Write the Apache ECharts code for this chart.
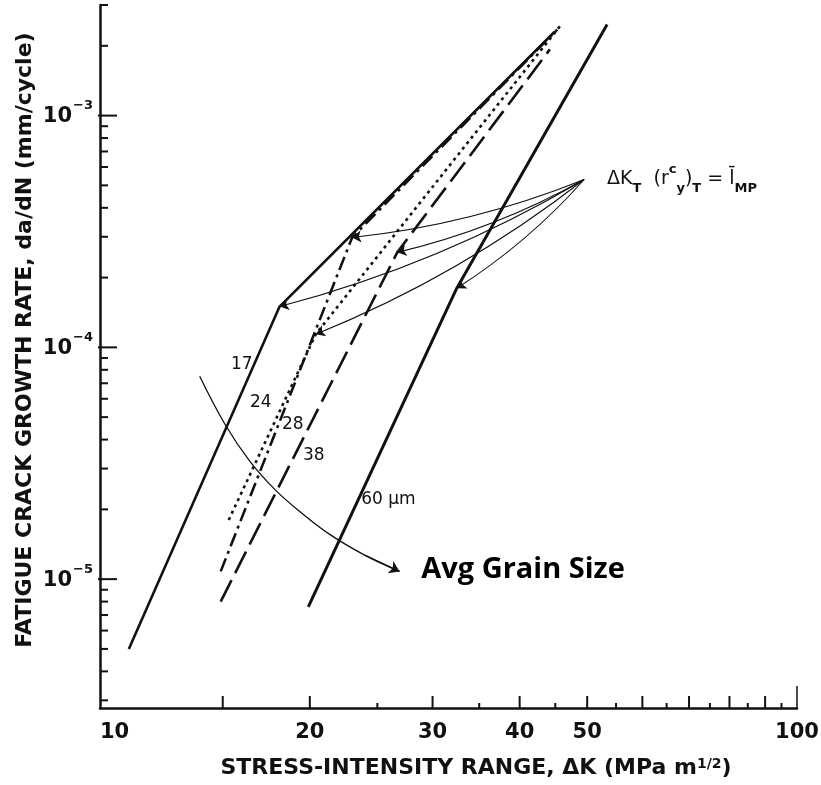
<!DOCTYPE html>
<html>
<head>
<meta charset="utf-8">
<script src="https://cdn.jsdelivr.net/npm/echarts@6/dist/echarts.min.js"></script>
<style>
  html, body { margin: 0; padding: 0; background: #fff; }
  #chart { width: 821px; height: 785px; }
</style>
</head>
<body>
<div id="chart"></div>
<script>
// Fatigue crack growth rate da/dN (mm/cycle) vs stress-intensity range ΔK (MPa m^1/2)
// for five average grain sizes; each curve is [ΔK, da/dN] pairs.
const grainSizes = ['17', '24', '28', '38', '60'];
const curve17 = [[11.0, 5.0e-6], [18.1, 1.50e-4], [44.9, 2.30e-3]];
const curve24 = [[15.3, 1.8e-5], [20.4, 1.14e-4], [45.9, 2.47e-3]];
const curve28 = [[14.9, 1.08e-5], [23.0, 2.98e-4], [45.3, 2.35e-3]];
const curve38 = [[14.9, 8.0e-6], [26.7, 2.57e-4], [44.2, 1.93e-3]];
const curve60 = [[19.9, 7.6e-6], [32.5, 1.80e-4], [53.4, 2.47e-3]];

// Transition points ΔK_T, where the cyclic plastic zone equals the grain size
const transitionOrigin = [49.5, 5.3e-4];
const transitionPoints = [[18.1, 1.50e-4], [20.4, 1.14e-4], [23.0, 2.98e-4], [26.7, 2.57e-4], [32.5, 1.80e-4]];

// Sweep arrow showing increasing average grain size
const grainArrow = [[13.9, 7.5e-5], [15.11, 4.66e-5], [16.4, 3.23e-5], [17.81, 2.44e-5],
                    [19.34, 1.96e-5], [21.36, 1.56e-5], [23.97, 1.27e-5], [26.9, 1.08e-5]];

// Curve label anchors
const curveLabels = [
  { text: '17', at: [15.97, 8.45e-5], align: 'center' },
  { text: '24', at: [17.01, 5.79e-5], align: 'center' },
  { text: '28', at: [18.9, 4.66e-5], align: 'center' },
  { text: '38', at: [20.26, 3.42e-5], align: 'center' },
  { text: '60 μm', at: [23.7, 2.21e-5], align: 'left' }
];
const transitionLabelAt = [53.4, 5.3e-4];
const grainLabelAt = [28.9, 1.10e-5];

// Axis ticks and labels
const xTickLabels = [10, 20, 30, 40, 50, 100];
const xMajorTicks = [15, 20, 30, 40, 50, 60, 70, 80, 90];
const xMinorTicks = [25, 35, 45, 55, 65, 75, 85, 95];
const yDecades = [1e-5, 1e-4, 1e-3];
const yMinorSteps = [2, 3, 4, 5, 6, 7, 8, 9];

const X_MIN = 10, X_MAX = 100, Y_MIN = 2.78e-6, Y_MAX = 3.0e-3;
const INK = '#111';
const LETTER = '"DejaVu Sans"';

const yMinorTicks = [];
[1e-6, 1e-5, 1e-4, 1e-3].forEach(d => yMinorSteps.forEach(s => {
  const v = d * s;
  if (v >= Y_MIN && v <= Y_MAX) yMinorTicks.push(v);
}));

function curveSeries(name, data, dash, width) {
  return {
    name, type: 'line', data, symbol: 'none', showSymbol: false, silent: true,
    animation: false, z: 3,
    lineStyle: { color: INK, width, type: dash, cap: 'butt' }
  };
}

function tickSeries(data, draw) {
  return {
    type: 'custom', clip: false, silent: true, animation: false, z: 4,
    data,
    renderItem(params, api) {
      const p = api.coord([api.value(0), api.value(1)]);
      return draw(p, api);
    }
  };
}

function textSeries(data, label) {
  return {
    type: 'scatter', symbolSize: 0, silent: true, animation: false, z: 5,
    itemStyle: { opacity: 1 },
    data,
    label: Object.assign({ show: true, position: 'inside', opacity: 1 }, label)
  };
}

const chart = echarts.init(document.getElementById('chart'), null, { renderer: 'canvas' });

const option = {
  backgroundColor: '#fff',
  animation: false,
  grid: { left: 100, right: 24, top: 5, bottom: 77 },
  xAxis: {
    type: 'log', logBase: 10, min: X_MIN, max: X_MAX,
    axisLine: { show: true, onZero: false, lineStyle: { color: INK, width: 2.5 } },
    axisTick: { show: false }, axisLabel: { show: false }, splitLine: { show: false }
  },
  yAxis: {
    type: 'log', logBase: 10, min: Y_MIN, max: Y_MAX,
    axisLine: { show: true, onZero: false, lineStyle: { color: INK, width: 2.5 } },
    axisTick: { show: false }, axisLabel: { show: false }, splitLine: { show: false }
  },
  graphic: [
    {
      type: 'text', x: 25, y: 340, rotation: Math.PI / 2, silent: true,
      style: {
        text: 'FATIGUE CRACK GROWTH RATE, da/dN (mm/cycle)',
        font: 'bold 22px ' + LETTER, fill: INK, align: 'center', verticalAlign: 'middle'
      }
    },
    {
      type: 'text', x: 476, y: 768, silent: true,
      style: {
        text: 'STRESS-INTENSITY RANGE, ΔK (MPa m{s|1/2})',
        font: 'bold 22px ' + LETTER, fill: INK, align: 'center', verticalAlign: 'middle',
        rich: { s: { font: 'bold 14px ' + LETTER, verticalAlign: 'top', fill: INK } }
      }
    }
  ],
  series: [
    curveSeries('17', curve17, 'solid', 2.6),
    curveSeries('24', curve24, [3, 4], 2.6),
    curveSeries('28', curve28, [14, 5, 3, 5], 2.6),
    curveSeries('38', curve38, [24, 8], 2.6),
    curveSeries('60', curve60, 'solid', 3),
    // fan of arrows from the ΔK_T annotation to each transition
    {
      type: 'lines', coordinateSystem: 'cartesian2d', silent: true, animation: false, z: 2,
      symbol: ['none', 'arrow'], symbolSize: [0, 9],
      lineStyle: { color: INK, width: 1.1, curveness: 0.07, opacity: 1 },
      data: transitionPoints.map(t => ({ coords: [transitionOrigin, t] }))
    },
    // grain-size sweep arrow
    {
      type: 'line', data: grainArrow, smooth: 0.4, symbol: 'none', showSymbol: false,
      silent: true, animation: false, z: 2, lineStyle: { color: INK, width: 1.3 }
    },
    {
      type: 'lines', coordinateSystem: 'cartesian2d', silent: true, animation: false, z: 2,
      symbol: ['none', 'arrow'], symbolSize: [0, 10],
      lineStyle: { color: INK, width: 1.3, opacity: 1 },
      data: [{ coords: grainArrow.slice(-2) }]
    },
    // curve labels
    textSeries(
      curveLabels.map(c => ({ value: c.at, name: c.text, label: { align: c.align } })),
      { formatter: '{b}', color: INK, fontFamily: 'DejaVu Sans', fontSize: 17, verticalAlign: 'middle' }
    ),
    textSeries(
      [{ value: transitionLabelAt, name: 'dk' }],
      {
        align: 'left', verticalAlign: 'middle', color: INK,
        formatter: 'ΔK{sub|T}  (r{sup|c}{sub|y}){sub|T} = l̄{sub|MP}',
        fontFamily: 'DejaVu Sans', fontSize: 19, lineHeight: 32,
        rich: {
          sub: { fontSize: 13, fontWeight: 'bold', verticalAlign: 'bottom', color: INK, lineHeight: 32 },
          sup: { fontSize: 13, fontWeight: 'bold', verticalAlign: 'top', color: INK, lineHeight: 32 }
        }
      }
    ),
    textSeries(
      [{ value: grainLabelAt, name: 'Avg Grain Size' }],
      {
        align: 'left', verticalAlign: 'middle', formatter: '{b}',
        color: '#000', fontFamily: 'Open Sans', fontWeight: 'bold', fontSize: 29
      }
    ),
    // axis ticks (inward)
    tickSeries(xMajorTicks.map(v => [v, Y_MIN]), p => ({
      type: 'line', shape: { x1: p[0], y1: p[1], x2: p[0], y2: p[1] - 12 },
      style: { stroke: INK, lineWidth: 2 }
    })),
    tickSeries(xMinorTicks.map(v => [v, Y_MIN]), p => ({
      type: 'line', shape: { x1: p[0], y1: p[1], x2: p[0], y2: p[1] - 5 },
      style: { stroke: INK, lineWidth: 2 }
    })),
    tickSeries([[X_MAX, Y_MIN]], p => ({
      type: 'line', shape: { x1: p[0], y1: p[1], x2: p[0], y2: p[1] - 22 },
      style: { stroke: INK, lineWidth: 1.5 }
    })),
    tickSeries(yDecades.map(v => [X_MIN, v]), p => ({
      type: 'line', shape: { x1: p[0] - 2, y1: p[1], x2: p[0] + 17, y2: p[1] },
      style: { stroke: INK, lineWidth: 2 }
    })),
    tickSeries(yMinorTicks.map(v => [X_MIN, v]), p => ({
      type: 'line', shape: { x1: p[0], y1: p[1], x2: p[0] + 8, y2: p[1] },
      style: { stroke: INK, lineWidth: 2 }
    })),
    // tick labels
    tickSeries(xTickLabels.map(v => [v, Y_MIN]), (p, api) => {
      const v = api.value(0);
      return {
        type: 'text', x: p[0], y: p[1] + 25,
        style: {
          text: String(v), font: 'bold 21px ' + LETTER, fill: INK,
          align: v === X_MIN ? 'left' : 'center', verticalAlign: 'middle'
        }
      };
    }),
    tickSeries(yDecades.map(v => [X_MIN, v]), (p, api) => {
      const exp = Math.round(Math.log10(api.value(1)));
      return {
        type: 'group',
        children: [
          { type: 'text', x: p[0] - 28, y: p[1] + 1,
            style: { text: '10', font: 'bold 21px ' + LETTER, fill: INK, align: 'right', verticalAlign: 'middle' } },
          { type: 'text', x: p[0] - 27, y: p[1] - 10,
            style: { text: '−' + Math.abs(exp), font: 'bold 13px ' + LETTER, fill: INK, align: 'left', verticalAlign: 'middle' } }
        ]
      };
    })
  ]
};

chart.setOption(option);
</script>
</body>
</html>
